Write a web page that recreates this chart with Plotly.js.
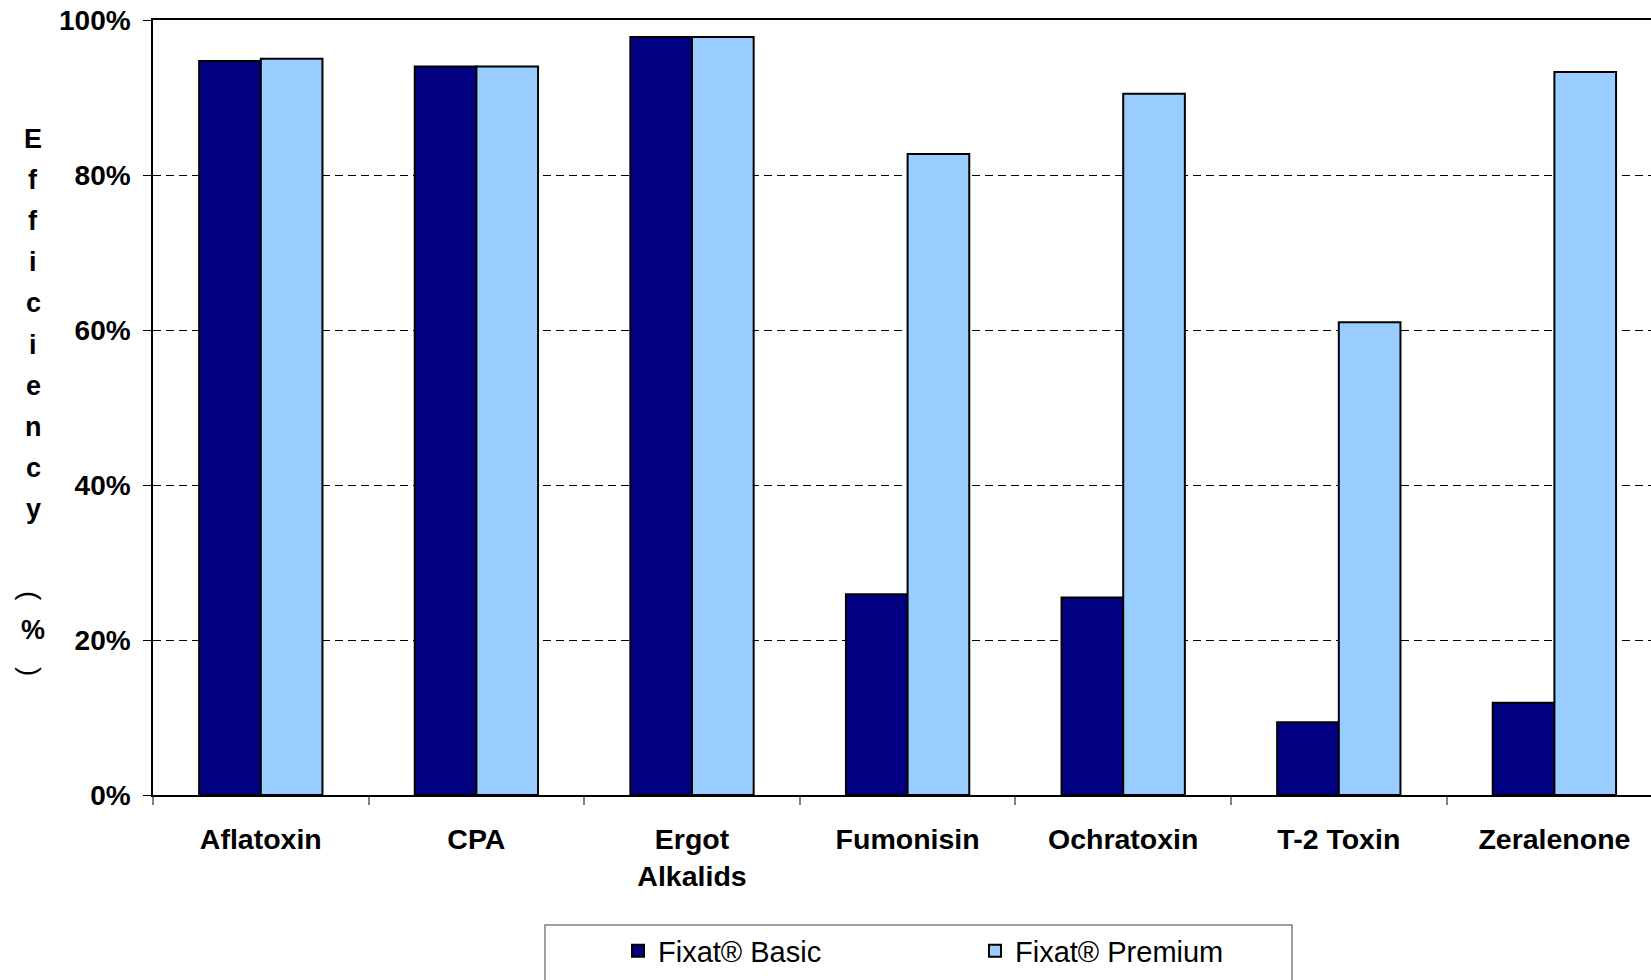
<!DOCTYPE html>
<html>
<head>
<meta charset="utf-8">
<script src="https://cdn.plot.ly/plotly-3.0.1.min.js"></script>
<style>
html,body{margin:0;padding:0;background:#fff;}
#chart{width:1651px;height:980px;}
</style>
</head>
<body>
<div id="chart"></div>
<script>
// ---- data ----
var categories = ["Aflatoxin", "CPA", "Ergot<br>Alkalids", "Fumonisin", "Ochratoxin", "T-2 Toxin", "Zeralenone"];
var basicValues = [0.947, 0.940, 0.978, 0.259, 0.255, 0.094, 0.119];
var premiumValues = [0.950, 0.940, 0.978, 0.827, 0.905, 0.610, 0.933];
var seriesNames = ["Fixat® Basic", "Fixat® Premium"];
var yTitleChars = ["E", "f", "f", "i", "c", "i", "e", "n", "c", "y"];
var yTitleUnit = ["(", "%", ")"];

// ---- geometry helpers (pixels -> paper) ----
var W = 1651, H = 980;
var plotL = 153, plotT = 20, plotB = 795, plotR = 1651;
var pw = plotR - plotL, ph = plotB - plotT;
function px2x(p) { return (p - plotL) / pw; }
function px2y(p) { return (plotB - p) / ph; }

var font = "Liberation Sans, Arial, sans-serif";

var traces = [
  {
    type: "bar", name: seriesNames[0], x: categories, y: basicValues,
    marker: {color: "#000080", line: {color: "#000000", width: 2}},
    legend: "legend", hoverinfo: "x+y"
  },
  {
    type: "bar", name: seriesNames[1], x: categories, y: premiumValues,
    marker: {color: "#99CCFF", line: {color: "#000000", width: 2}},
    legend: "legend2", hoverinfo: "x+y"
  }
];

var annotations = [];
yTitleChars.forEach(function (c, i) {
  annotations.push({
    xref: "paper", yref: "paper", x: px2x(33), y: px2y(139 + i * 41.1),
    xanchor: "center", yanchor: "middle", showarrow: false, text: c,
    font: {family: font, size: 27, color: "#000", weight: "bold"}
  });
});
var unitY = [596, 630, 672];
yTitleUnit.forEach(function (c, i) {
  annotations.push({
    xref: "paper", yref: "paper", x: px2x(i === 1 ? 33 : 31), y: px2y(unitY[i]),
    xanchor: "center", yanchor: "middle", showarrow: false, text: c,
    textangle: i === 1 ? 0 : 90,
    font: {family: font, size: i === 1 ? 27 : 28, color: "#000", weight: i === 1 ? "bold" : "normal"}
  });
});

var catW = 215.6;
var xEnd = -0.5 + pw / catW;

var legendFont = {family: font, size: 29, color: "#000"};
var layout = {
  width: W, height: H,
  margin: {l: plotL, r: 0, t: plotT, b: H - plotB, autoexpand: false},
  paper_bgcolor: "#fff", plot_bgcolor: "#fff",
  barmode: "group", bargap: 0.428, bargroupgap: 0,
  font: {family: font, color: "#000"},
  xaxis: {
    type: "category", range: [-0.5, xEnd],
    showline: true, linecolor: "#000", linewidth: 1.5, mirror: true,
    ticks: "outside", tickson: "boundaries", ticklen: 8, tickcolor: "#808080", tickwidth: 1.5,
    showgrid: false, zeroline: false,
    tickfont: {family: font, size: 28.5, color: "#000", weight: "bold"},
    ticklabelstandoff: 18
  },
  yaxis: {
    range: [0, 1], dtick: 0.2, tick0: 0, tickformat: ".0%",
    showline: true, linecolor: "#000", linewidth: 1.5,
    ticks: "outside", ticklen: 8, tickcolor: "#000", tickwidth: 1,
    showgrid: true, gridcolor: "#000", gridwidth: 1, griddash: "8px,5px",
    zeroline: false,
    tickfont: {family: font, size: 28, color: "#000", weight: "bold"},
    ticklabelstandoff: 7
  },
  showlegend: true,
  legend: {
    xref: "container", yref: "container",
    x: 618 / W, y: 1 - 951 / H, xanchor: "left", yanchor: "middle",
    orientation: "h", bgcolor: "rgba(0,0,0,0)", borderwidth: 0, font: legendFont
  },
  legend2: {
    xref: "container", yref: "container",
    x: 975 / W, y: 1 - 951 / H, xanchor: "left", yanchor: "middle",
    orientation: "h", bgcolor: "rgba(0,0,0,0)", borderwidth: 0, font: legendFont
  },
  shapes: [{
    type: "rect", xref: "paper", yref: "paper",
    x0: px2x(545), x1: px2x(1292), y0: px2y(925), y1: px2y(1010),
    line: {color: "#808080", width: 1.5}, fillcolor: "rgba(0,0,0,0)", layer: "above"
  }],
  annotations: annotations
};

Plotly.newPlot("chart", traces, layout, {displayModeBar: false, responsive: false});
</script>
</body>
</html>
